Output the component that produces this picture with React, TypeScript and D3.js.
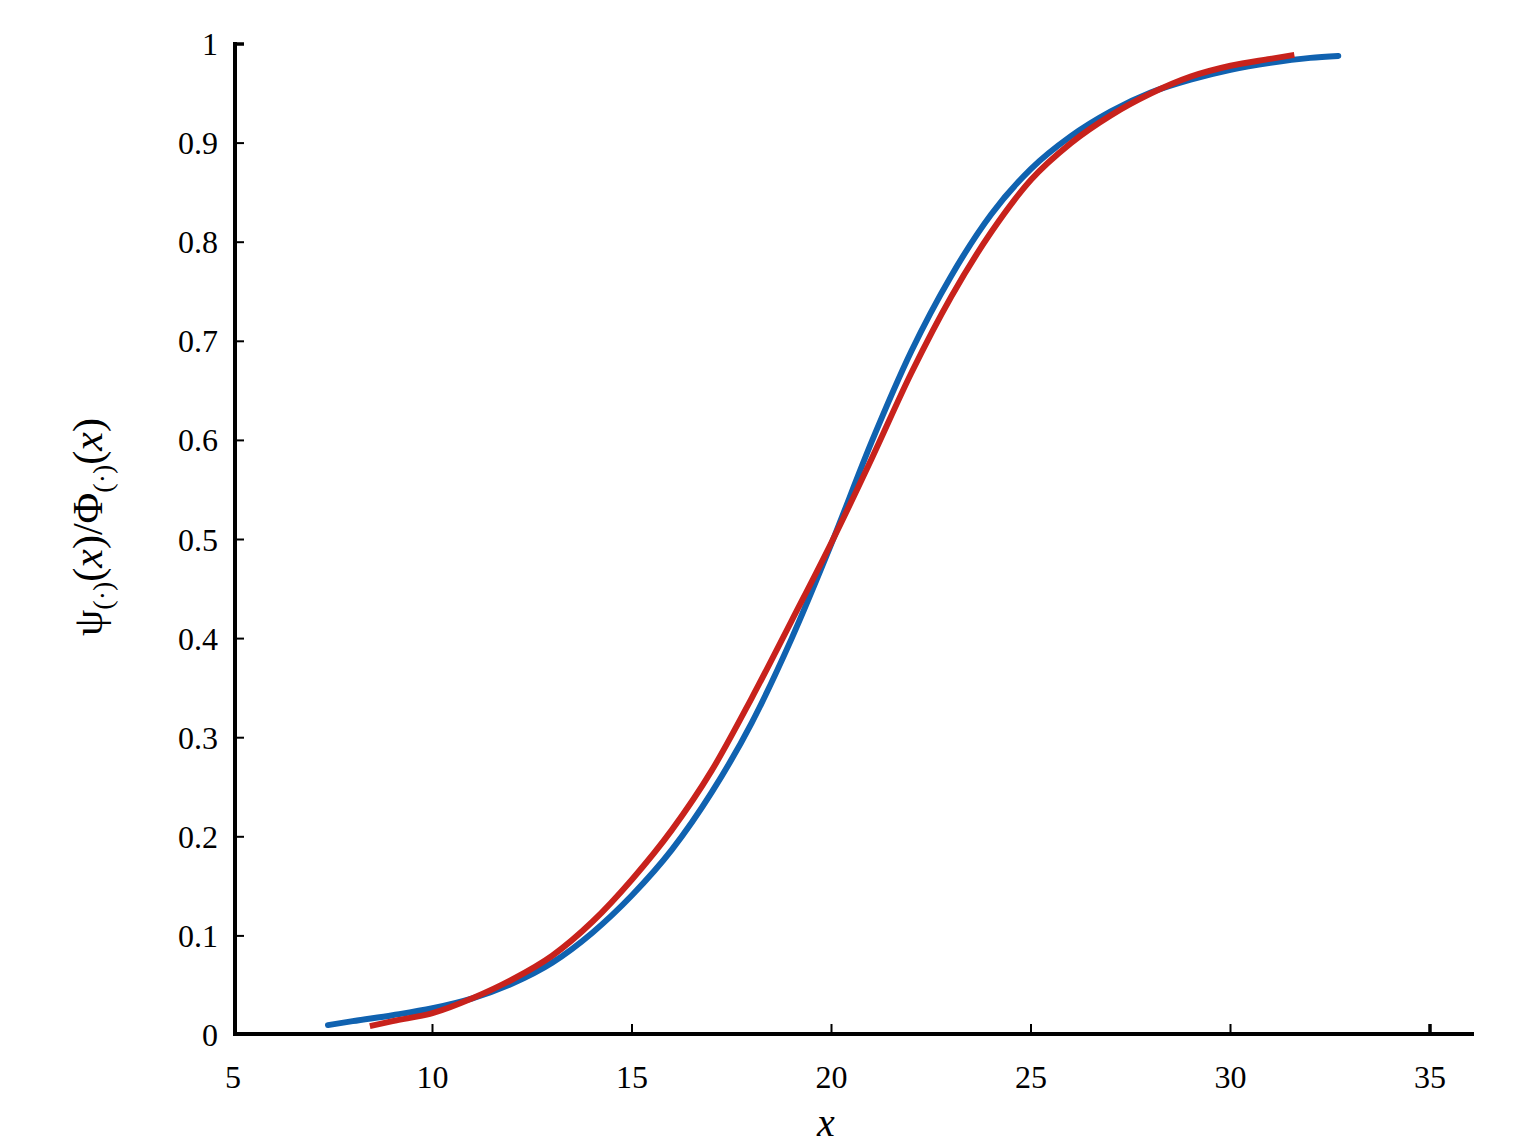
import React from "react";
import * as d3 from "d3";

const xTicks = [5, 10, 15, 20, 25, 30, 35];
const yTicks = [0, 0.1, 0.2, 0.3, 0.4, 0.5, 0.6, 0.7, 0.8, 0.9, 1];

const blueX = [7.38, 8, 9, 10, 11, 12, 13, 14, 15, 16, 17, 18, 19, 20, 21, 22, 23, 24, 25, 26, 27, 28, 29, 30, 31, 32, 32.7];
const blueY = [0.010, 0.014, 0.02, 0.027, 0.037, 0.052, 0.073, 0.103, 0.141, 0.187, 0.245, 0.315, 0.4, 0.496, 0.598, 0.69, 0.766, 0.828, 0.874, 0.907, 0.932, 0.951, 0.964, 0.974, 0.981, 0.986, 0.988];

const redX = [8.43, 9, 10, 11, 12, 13, 14, 15, 16, 17, 18, 19, 20, 21, 22, 23, 24, 25, 26, 27, 28, 29, 30, 31, 31.6];
const redY = [0.009, 0.014, 0.022, 0.037, 0.056, 0.08, 0.114, 0.157, 0.207, 0.267, 0.34, 0.418, 0.497, 0.581, 0.668, 0.745, 0.81, 0.863, 0.9, 0.928, 0.95, 0.967, 0.978, 0.985, 0.989];

const W = 1535;
const H = 1145;
const FONT = "'Liberation Serif', 'Times New Roman', Times, serif";

export default function App() {
  const x = d3.scaleLinear().domain([5, 35]).range([233, 1430]);
  const y = d3.scaleLinear().domain([0, 1]).range([1035, 44]);
  const line = d3
    .line<[number, number]>()
    .x((d) => x(d[0]))
    .y((d) => y(d[1]))
    .curve(d3.curveMonotoneX);
  const blue: [number, number][] = blueX.map((v, i) => [v, blueY[i]]);
  const red: [number, number][] = redX.map((v, i) => [v, redY[i]]);
  const x0 = 235;
  const y0 = 1034;
  const ts = { fontFamily: FONT };
  return (
    <svg
      width={W}
      height={H}
      style={{ position: "absolute", left: 0, top: 0, background: "#fff", fontFamily: FONT }}
    >
      <path d={line(blue) || ""} fill="none" stroke="#1062b0" strokeWidth={6} strokeLinecap="round" />
      <path d={line(red) || ""} fill="none" stroke="#c8221c" strokeWidth={6} strokeLinecap="butt" />
      <line x1={x0} y1={42} x2={x0} y2={y0 + 2} stroke="#000" strokeWidth={4} />
      <line x1={x0 - 2} y1={y0} x2={1474} y2={y0} stroke="#000" strokeWidth={4} />
      {yTicks.map((t) => (
        <g key={"y" + t}>
          <line x1={x0} x2={x0 + 9} y1={y(t)} y2={y(t)} stroke="#000" strokeWidth={t === 1 ? 3.5 : 2} />
          <text x={218} y={y(t) + 11} textAnchor="end" fontSize={32} style={ts}>
            {String(t)}
          </text>
        </g>
      ))}
      {xTicks.map((t) => (
        <g key={"x" + t}>
          {t > 5 && (
            <line x1={x(t)} x2={x(t)} y1={y0} y2={y0 - 10} stroke="#000" strokeWidth={t === 35 ? 3.5 : 2} />
          )}
          <text x={x(t)} y={1088} textAnchor="middle" fontSize={32} style={ts}>
            {String(t)}
          </text>
        </g>
      ))}
      <text x={826} y={1136} textAnchor="middle" fontSize={40} fontStyle="italic" style={ts}>
        x
      </text>
      <text transform="translate(102,527) rotate(-90)" textAnchor="middle" fontSize={42} style={ts}>
        <tspan>ψ</tspan>
        <tspan fontSize={28} dy={10}>(·)</tspan>
        <tspan dy={-10}>(</tspan>
        <tspan fontStyle="italic">x</tspan>
        <tspan>)/Φ</tspan>
        <tspan fontSize={28} dy={10}>(·)</tspan>
        <tspan dy={-10}>(</tspan>
        <tspan fontStyle="italic">x</tspan>
        <tspan>)</tspan>
      </text>
    </svg>
  );
}
